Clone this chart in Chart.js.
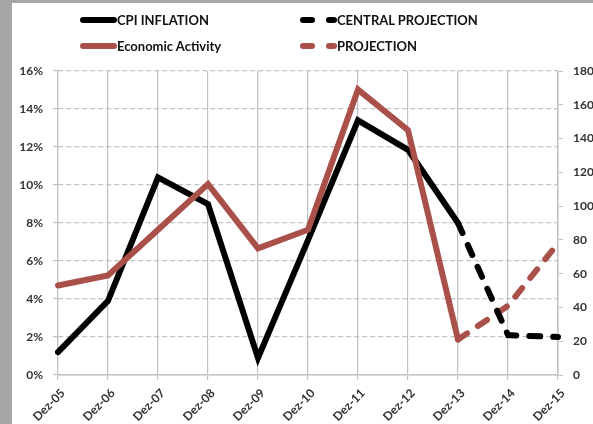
<!DOCTYPE html>
<html>
<head>
<meta charset="utf-8">
<script src="https://cdn.jsdelivr.net/npm/chart.js@4.4.1/dist/chart.umd.min.js"></script>
<style>
  html, body { margin: 0; padding: 0; background: #fff; }
  #wrap { position: relative; width: 593px; height: 424px; overflow: hidden; }
  #chart { position: absolute; left: 0; top: 0; }
  .frame-left { position: absolute; left: 0; top: 0; width: 12px; height: 424px; background: #a6a6a6; }
  .frame-top { position: absolute; left: 0; top: 0; width: 593px; height: 3px; background: #a6a6a6; }
  .legend-item { position: absolute; height: 16px; font: bold 13px Lato, "Open Sans", sans-serif; color: #111; line-height: 16px; white-space: nowrap; }
  .swatch { position: absolute; top: 5px; height: 6px; border-radius: 3px; }
  .legend-item span.label { position: absolute; top: 0; }
</style>
</head>
<body>
<div id="wrap">
  <canvas id="chart" width="593" height="424"></canvas>
  <div class="frame-left"></div>
  <div class="frame-top"></div>

  <div class="legend-item" style="left:80px; top:12px;">
    <div class="swatch" style="left:0; width:37px; background:#000;"></div>
    <span class="label" style="left:37px;">CPI INFLATION</span>
  </div>
  <div class="legend-item" style="left:80px; top:38px;">
    <div class="swatch" style="left:0; width:37px; background:#a9504b;"></div>
    <span class="label" style="left:37px;">Economic Activity</span>
  </div>
  <div class="legend-item" style="left:300px; top:12px;">
    <div class="swatch" style="left:0; width:15px; background:#000;"></div>
    <div class="swatch" style="left:26px; width:11px; background:#000;"></div>
    <span class="label" style="left:37px;">CENTRAL PROJECTION</span>
  </div>
  <div class="legend-item" style="left:300px; top:38px;">
    <div class="swatch" style="left:0; width:15px; background:#a9504b;"></div>
    <div class="swatch" style="left:26px; width:11px; background:#a9504b;"></div>
    <span class="label" style="left:37px;">PROJECTION</span>
  </div>
</div>

<script>
const labels = ['Dez-05', 'Dez-06', 'Dez-07', 'Dez-08', 'Dez-09', 'Dez-10',
                'Dez-11', 'Dez-12', 'Dez-13', 'Dez-14', 'Dez-15'];

// inflation, % (left axis)
const cpiInflation = [1.2, 3.9, 10.4, 9.0, 0.9, 7.1, 13.4, 11.85, 8.0, null, null];
const centralProjection = [null, null, null, null, null, null, null, null, 8.0, 2.1, 2.0];

// activity index (right axis)
const economicActivity = [53, 59, 86, 113, 75, 86, 169, 145, 21, null, null];
const activityProjection = [null, null, null, null, null, null, null, null, 21, 41, 78];

const RED = '#a9504b';
const GRID = '#c2c2c2';
const TICK_FONT = { family: "Lato, 'Open Sans', sans-serif", size: 12, weight: 'bold' };

function lineSet(label, data, color, axis, dashed, order) {
    return {
        label: label,
        data: data,
        yAxisID: axis,
        borderColor: color,
        backgroundColor: color,
        borderWidth: 6,
        borderCapStyle: 'round',
        borderJoinStyle: 'miter',
        borderDash: dashed ? [11, 13] : [],
        pointRadius: 0,
        tension: 0,
        spanGaps: false,
        order: order
    };
}

const ctx = document.getElementById('chart');

new Chart(ctx, {
    type: 'line',
    data: {
        labels: labels,
        datasets: [
            lineSet('CPI INFLATION', cpiInflation, '#000', 'y', false, 2),
            lineSet('CENTRAL PROJECTION', centralProjection, '#000', 'y', true, 1),
            lineSet('Economic Activity', economicActivity, RED, 'y1', false, 0),
            lineSet('PROJECTION', activityProjection, RED, 'y1', true, 3)
        ]
    },
    options: {
        responsive: false,
        animation: false,
        layout: { padding: { top: 71, left: 0, right: 0, bottom: 0 } },
        plugins: {
            legend: { display: false },
            tooltip: { enabled: false }
        },
        scales: {
            x: {
                offset: false,
                grid: {
                    color: GRID,
                    lineWidth: 1.2,
                    borderDash: [5, 3],
                    tickLength: 5,
                    tickBorderDash: [],
                    tickColor: GRID
                },
                border: { display: true, color: GRID, width: 1.5 },
                ticks: {
                    font: TICK_FONT,
                    color: '#333',
                    maxRotation: 45,
                    minRotation: 45,
                    padding: 6,
                    labelOffset: 5,
                    autoSkip: false
                },
                afterFit: function(scale) { scale.height = 49; }
            },
            y: {
                position: 'left',
                min: 0,
                max: 16,
                grid: {
                    color: GRID,
                    lineWidth: 1.2,
                    borderDash: [5, 3],
                    tickLength: 5,
                    tickBorderDash: [],
                    tickColor: GRID
                },
                border: { display: true, color: GRID, width: 1.2, dash: [5, 3] },
                ticks: {
                    stepSize: 2,
                    font: TICK_FONT,
                    color: '#333',
                    padding: 10,
                    callback: function(v) { return v + '%'; }
                },
                afterFit: function(scale) { scale.width = 58; }
            },
            y1: {
                position: 'right',
                min: 0,
                max: 180,
                grid: {
                    drawOnChartArea: false,
                    color: GRID,
                    tickLength: 5
                },
                border: { display: true, color: GRID, width: 1.5 },
                ticks: {
                    stepSize: 20,
                    font: TICK_FONT,
                    color: '#333',
                    padding: 10
                },
                afterFit: function(scale) { scale.width = 35; }
            }
        }
    }
});
</script>
</body>
</html>
